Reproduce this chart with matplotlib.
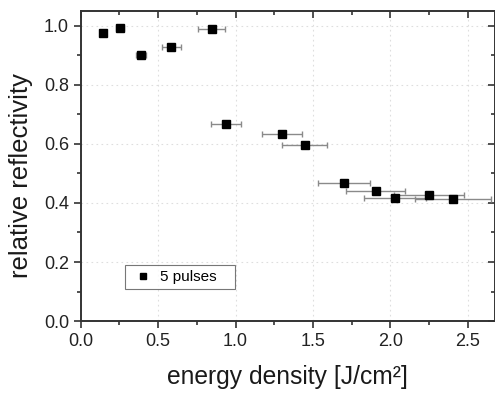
import numpy as np
import matplotlib
matplotlib.use('Agg')
import matplotlib.pyplot as plt
from matplotlib.ticker import MultipleLocator

# energy density [J/cm^2], relative reflectivity, horizontal error
energy = [0.145, 0.255, 0.39, 0.585, 0.845, 0.94, 1.30, 1.447, 1.70, 1.905, 2.03, 2.248, 2.405]
reflectivity = [0.975, 0.991, 0.90, 0.928, 0.989, 0.669, 0.633, 0.597, 0.468, 0.439, 0.417, 0.428, 0.414]
energy_err = [0.014, 0.026, 0.032, 0.06, 0.086, 0.097, 0.13, 0.145, 0.17, 0.19, 0.2, 0.225, 0.245]

x_ticks = [0.0, 0.5, 1.0, 1.5, 2.0, 2.5]
y_ticks = [0.0, 0.2, 0.4, 0.6, 0.8, 1.0]

plt.rcParams['font.family'] = ['Liberation Sans', 'DejaVu Sans']

fig = plt.figure(figsize=(4.95, 3.93), dpi=100)
ax = fig.add_axes([0.163, 0.183, 0.837, 0.789])

ax.errorbar(energy, reflectivity, xerr=energy_err, fmt='none',
            ecolor='#8a8a8a', elinewidth=1.0, capsize=2.5, capthick=1.0, zorder=2)
ax.plot(energy, reflectivity, 's', color='black', markersize=5.2,
        label='5 pulses   ', zorder=3)

ax.set_xlim(0, 2.675)
ax.set_ylim(0, 1.05)
ax.set_xticks(x_ticks)
ax.set_yticks(y_ticks)
ax.set_xticklabels([f'{v:.1f}' for v in x_ticks])
ax.set_yticklabels([f'{v:.1f}' for v in y_ticks])
ax.xaxis.set_minor_locator(MultipleLocator(0.25))
ax.yaxis.set_minor_locator(MultipleLocator(0.1))

ax.grid(True, which='major', color='#dedede', linestyle=(0, (1.5, 3)), linewidth=0.8)
ax.set_axisbelow(True)

for s in ax.spines.values():
    s.set_color('#333333')
    s.set_linewidth(1.4)

ax.tick_params(which='both', direction='out', color='#333333', labelcolor='#222222',
               labelsize=13, width=1.2)
ax.tick_params(which='major', length=5)
ax.tick_params(which='minor', length=3)
ax.tick_params(which='both', top=True, right=True)

# Origin-style: top/right ticks point inward
for t in ax.xaxis.get_major_ticks() + ax.xaxis.get_minor_ticks():
    t.tick2line.set_marker(3)
for t in ax.yaxis.get_major_ticks() + ax.yaxis.get_minor_ticks():
    t.tick2line.set_marker(0)

ax.set_xlabel('energy density [J/cm²]', fontsize=17.7, color='#1a1a1a', labelpad=11)
ax.set_ylabel('relative reflectivity', fontsize=18.5, color='#1a1a1a')
ax.yaxis.set_label_coords(-0.115, 0.469)

leg = ax.legend(loc='lower left', bbox_to_anchor=(0.107, 0.102), borderaxespad=0,
                fontsize=11, frameon=True, fancybox=False, handlelength=1.6,
                handletextpad=0.33, borderpad=0.35, markerscale=0.8)
leg.get_frame().set_edgecolor('#555555')
leg.get_frame().set_linewidth(0.8)

fig.savefig('out.png', dpi=100)
